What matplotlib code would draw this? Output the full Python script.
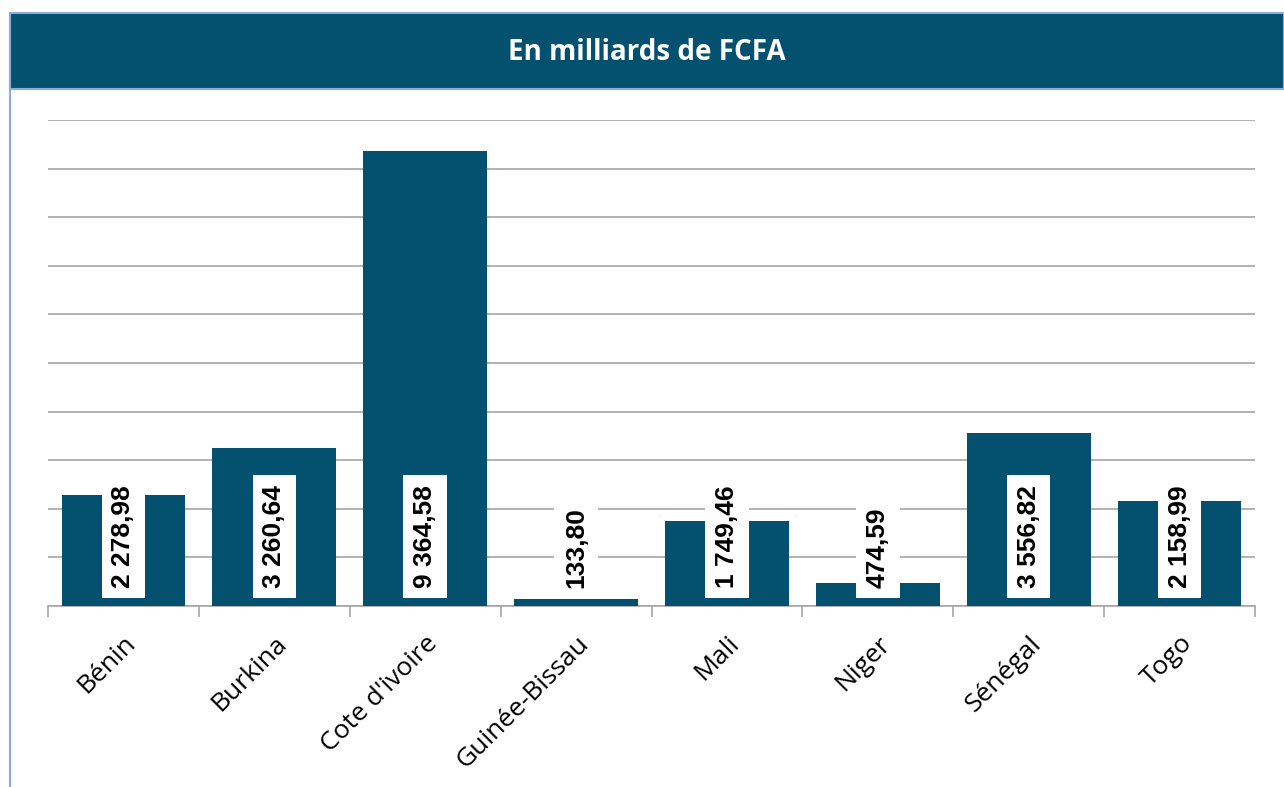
import numpy as np
import matplotlib

matplotlib.use("Agg")
import matplotlib.pyplot as plt
from matplotlib.patches import Rectangle
from matplotlib.lines import Line2D

countries = ["Bénin", "Burkina", "Cote d'ivoire", "Guinée-Bissau",
             "Mali", "Niger", "Sénégal", "Togo"]
values = [2278.98, 3260.64, 9364.58, 133.80, 1749.46, 474.59, 3556.82, 2158.99]
value_labels = ["2 278,98", "3 260,64", "9 364,58", "133,80",
                "1 749,46", "474,59", "3 556,82", "2 158,99"]
title = "En milliards de FCFA"

BAR = "#03516F"
BORDER = "#8EAADB"
GRID = "#A6A6A6"

W, H = 1284, 787
fig = plt.figure(figsize=(W / 100, H / 100), dpi=100)

# header band + frame
fig.patches.append(Rectangle((10 / W, 1 - 89 / H), 1 - 10 / W, 76 / H,
                             transform=fig.transFigure, fc=BAR, ec=BORDER, lw=1.5))
fig.lines.append(Line2D([10 / W, 10 / W], [0, 1 - 13 / H],
                        transform=fig.transFigure, color=BORDER, lw=1.5))
fig.text((10 + W) / 2 / W, 1 - 52 / H, title, color="white", fontsize=20,
         fontweight="bold", family="Open Sans", ha="center", va="center")

ax = fig.add_axes([48 / W, 1 - 606 / H, (1255 - 48) / W, (606 - 120) / H])
x = np.arange(len(countries))
ax.bar(x, values, width=0.82, color=BAR, zorder=3)

ax.set_xlim(-0.5, len(countries) - 0.5)
ax.set_ylim(0, 10000)
ax.set_yticks(np.arange(0, 10001, 1000))
ax.yaxis.grid(True, color=GRID, lw=1.2, zorder=0)
ax.tick_params(axis="y", left=False, labelleft=False)
for s in ["top", "right", "left"]:
    ax.spines[s].set_visible(False)
ax.spines["bottom"].set_color(GRID)
ax.spines["bottom"].set_linewidth(1.2)

ax.set_xticks(x)
ax.set_xticklabels(countries, rotation=45, ha="right", va="top",
                   rotation_mode="anchor", fontsize=19, family="Open Sans")
ax.tick_params(axis="x", which="major", length=0, pad=18)
ax.set_xticks(np.arange(-0.5, len(countries)), minor=True)
ax.tick_params(axis="x", which="minor", length=8, color=GRID, width=1.2)

for xi, lab in zip(x, value_labels):
    ax.text(xi, 370, lab, rotation=90, ha="center", va="bottom",
            fontsize=19, fontweight="bold", family="Liberation Sans",
            zorder=5,
            bbox=dict(fc="white", ec="none", pad=7))

fig.savefig("out.png", dpi=100)
